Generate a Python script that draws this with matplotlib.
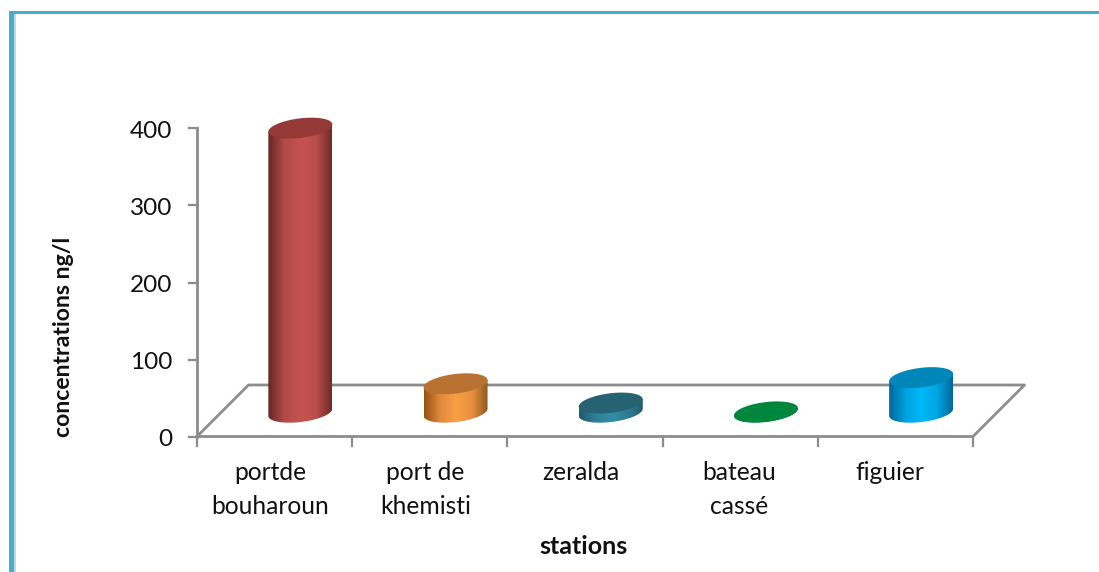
import numpy as np
import matplotlib
matplotlib.use('Agg')
import matplotlib.pyplot as plt
from matplotlib.colors import LinearSegmentedColormap
from matplotlib.patches import Polygon, Rectangle

plt.rcParams['font.family'] = ['Lato', 'DejaVu Sans']

# donnees
stations = ['portde\nbouharoun', 'port de\nkhemisti', 'zeralda', 'bateau\ncassé', 'figuier']
concentrations = [369, 37, 12, 0.5, 45]
yticks = [0, 100, 200, 300, 400]
side_colors = [
    ['#642624', '#b04a47', '#c8524f', '#bb4e4a', '#702b29'],
    ['#96500f', '#e08a3e', '#f9a046', '#e9903f', '#8e5a20'],
    ['#215a6c', '#2f7f96', '#328ca6', '#2d7d94', '#215a6c'],
    ['#00743a', '#008a3f', '#009245', '#008a3f', '#00743a'],
    ['#00679a', '#00a0dc', '#00b8fa', '#00a5e2', '#00689a'],
]
top_colors = ['#953937', '#b97232', '#256372', '#00863d', '#0086b8']

W, H = 1099, 572
x0, y0 = 197, 436.5      # origine en pixels
cat_w = 155.2            # largeur d'une categorie
val_h = 0.77             # pixels par unite
dx, dy = 51.5, 51.5      # profondeur du plancher

fig = plt.figure(figsize=(W / 100, H / 100), dpi=100)
ax = fig.add_axes([0, 0, 1, 1])
xlim = (-x0 / cat_w, (W - x0) / cat_w)
ylim = ((y0 - H) / val_h, y0 / val_h)
ax.axis('off')

depth_x = dx / cat_w
depth_y = dy / val_h
n = len(stations)
grey = '#8c8c8c'

# plancher et axes
ax.plot([0, depth_x, n + depth_x, n, 0], [0, depth_y, depth_y, 0, 0], color=grey, lw=2, zorder=1)
ax.plot([0, 0], [0, yticks[-1]], color=grey, lw=2, zorder=1)
for t in yticks:
    ax.plot([-8 / cat_w, 0], [t, t], color=grey, lw=1.6, zorder=1)
    ax.text(-25 / cat_w, t - 3.5 / val_h, str(t), ha='right', va='center', fontsize=17.6, color='#111111')
for i in range(n + 1):
    ax.plot([i, i], [0, -9 / val_h], color=grey, lw=1.6, zorder=1)

# cylindres
a = 32 / cat_w
b = 9.8 / val_h
shear = 3.6 / val_h
t = np.linspace(0, 2 * np.pi, 200)
for i, v in enumerate(concentrations):
    cx = i + 0.5 + depth_x / 2
    cy = depth_y / 2 - 1.5 / val_h
    ex = a * np.cos(t)
    ey = b * np.sin(t) + shear * np.cos(t)
    xb = cx + ex
    yb = cy + ey
    yt = yb + v
    # corps = moitie basse de l'ellipse + les deux bords verticaux
    lower = t[t >= np.pi]
    body = [[cx - a, cy + v - shear], [cx + a, cy + v + shear]]
    body += [[cx + a * np.cos(u), cy + b * np.sin(u) + shear * np.cos(u)] for u in lower[::-1]]
    body_patch = Polygon(body + [[cx - a, cy - shear]], closed=True, transform=ax.transData)
    cmap = LinearSegmentedColormap.from_list('side%d' % i, side_colors[i])
    im = ax.imshow(np.linspace(0, 1, 128).reshape(1, -1), cmap=cmap, aspect='auto',
                   extent=[cx - a, cx + a, cy - b * 1.3, cy + v + b * 1.3], zorder=2)
    im.set_clip_path(body_patch)
    ax.add_patch(Polygon(np.column_stack([xb, yt]), closed=True, facecolor=top_colors[i],
                         edgecolor='none', zorder=3))

# libelles
label_x = [270, 425.5, 581, 739, 890]
for name, px in zip(stations, label_x):
    ax.text((px - x0) / cat_w, (y0 - 461) / val_h, name, ha='center', va='top', fontsize=17.7,
            color='#111111', linespacing=1.6)
ax.text((584 - x0) / cat_w, (y0 - 546) / val_h, 'stations', ha='center', va='center',
        fontsize=18, fontweight='bold', color='#111111')
ax.text((63 - x0) / cat_w, (y0 - 337) / val_h, 'concentrations ng/l', rotation=90, ha='center',
        va='center', fontsize=16.6, fontweight='bold', color='#111111')

# cadre bleu
bt = ax.transAxes
ax.add_patch(Rectangle((9 / W, 0), 5 / W, 1 - 11 / H, transform=bt, facecolor='#4bacc6',
                       edgecolor='none', zorder=5))
ax.add_patch(Rectangle((14 / W, 0), 1.5 / W, 1 - 11 / H, transform=bt, facecolor='#b7dde8',
                       edgecolor='none', zorder=5))
ax.add_patch(Rectangle((9 / W, 1 - 14 / H), 1 - 9 / W, 3 / H, transform=bt, facecolor='#4bacc6',
                       edgecolor='none', zorder=5))

ax.set_xlim(*xlim)
ax.set_ylim(*ylim)
fig.savefig('out.png', dpi=100)
